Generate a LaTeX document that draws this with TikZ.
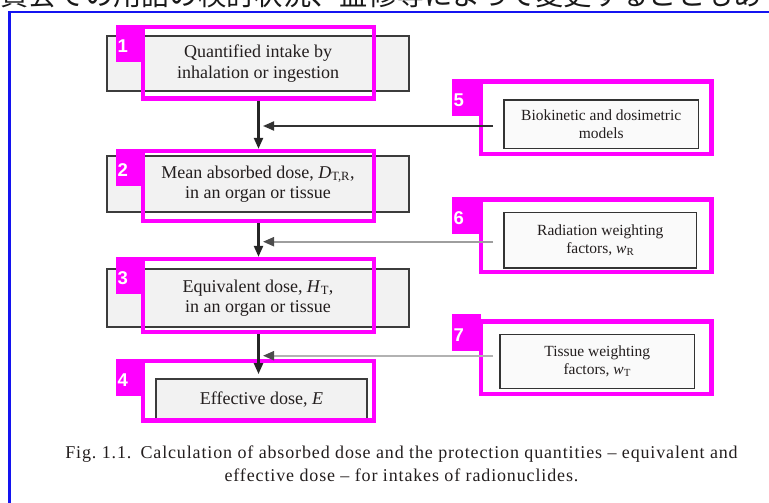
\documentclass[tikz,border=0pt]{standalone}
\usepackage{fontspec}
\setmainfont{Liberation Serif}
\newfontfamily\tagfont{Liberation Sans}
\newfontfamily\jpfont{Noto Sans CJK JP}
\usetikzlibrary{arrows.meta}

\definecolor{hilitecol}{RGB}{255,0,255}
\definecolor{frameblue}{RGB}{20,20,240}
\definecolor{stagefill}{RGB}{242,242,242}
\definecolor{stageline}{RGB}{60,60,60}
\definecolor{inkcol}{RGB}{35,30,30}

\tikzset{
  stage/.style={draw=stageline, line width=1.8pt, fill=stagefill, align=center,
    font=\fontsize{18}{20.5}\selectfont, text=inkcol, inner sep=0pt},
  source/.style={draw=black!80, line width=1.4pt, fill=black!2, align=center,
    font=\fontsize{15.5}{17.5}\selectfont, text=inkcol, inner sep=0pt},
  hilite/.style={draw=hilitecol, line width=4.3pt, inner sep=0pt},
  tag/.style={fill=hilitecol, text=white, anchor=north west,
    font=\tagfont\bfseries\fontsize{18.5}{18.5}\selectfont,
    inner xsep=1.5pt, inner ysep=0pt, text width=24pt, align=left,
    minimum height=37pt, text height=18pt, text depth=0pt},
  flow/.style={line width=2.3pt, draw=black!85, -{Triangle[length=11pt,width=9pt]}},
  feed/.style={line width=2pt, -{Triangle[length=11pt,width=9pt]}},
}

\begin{document}
\begin{tikzpicture}[x=1pt,y=-1pt]
\useasboundingbox (0,0) rectangle (769,503);

% running header of the page and the figure frame, cut at the page edge
\begin{scope}
  \clip (0,0) rectangle (769,503);
  \node[anchor=base west, inner sep=0pt, text=black!90,
        font=\jpfont\fontsize{28.3}{30}\selectfont] (hdr) at (0,5.5)
        {資会での用語の検討状況、監修等によって変更することもあ};
  \draw[frameblue, line width=2.5pt] (9.7,510) -- (9.7,12.2) -- (775,12.2);
\end{scope}

% main chain of quantities
\node[stage, minimum width=302pt, minimum height=55pt] (b1) at (258,63.5)
  {Quantified intake by\\inhalation or ingestion};
\node[stage, minimum width=302pt, minimum height=56pt] (b2) at (258,184)
  {Mean absorbed dose, \textit{D}\textsubscript{T,R},\\in an organ or tissue};
\node[stage, minimum width=302pt, minimum height=58pt] (b3) at (258,298)
  {Equivalent dose, \textit{H}\textsubscript{T},\\in an organ or tissue};
\node[stage, minimum width=211pt, minimum height=42pt] (b4) at (261.5,400)
  {Effective dose, \textit{E}};

% inputs on the right
\node[source, minimum width=194.5pt, minimum height=48.5pt] (s5) at (601.25,124.25)
  {Biokinetic and dosimetric\\models};
\node[source, minimum width=192.5pt, minimum height=55.5pt] (s6) at (600.25,240.25)
  {Radiation weighting\\factors, \textit{w}\textsubscript{R}};
\node[source, minimum width=194.5pt, minimum height=54pt] (s7) at (597.25,361.5)
  {Tissue weighting\\factors, \textit{w}\textsubscript{T}};

% highlight frames
\node[hilite, minimum width=231pt, minimum height=71.5pt] (f1) at (258.5,62.75) {};
\node[hilite, minimum width=231pt, minimum height=70pt]   (f2) at (258.5,186) {};
\node[hilite, minimum width=231pt, minimum height=73pt]   (f3) at (258.5,295.5) {};
\node[hilite, minimum width=231pt, minimum height=59.5pt] (f4) at (258.5,390.75) {};
\node[hilite, minimum width=230.5pt, minimum height=72.5pt] (f5) at (596.25,117.75) {};
\node[hilite, minimum width=230.5pt, minimum height=72.5pt] (f6) at (596.25,235.75) {};
\node[hilite, minimum width=230.5pt, minimum height=72.5pt] (f7) at (596.25,357.75) {};

% joins on the main chain
\coordinate (k5) at (263,126);
\coordinate (k6) at (263,241.7);
\coordinate (k7) at (263,355.7);

% arrows
\draw[flow] (f1.south) -- (f2.north);
\draw[flow] (f2.south) -- (f3.north);
\draw[flow, shorten >=4pt] (f3.south) -- (f3.south |- b4.north);
\draw[feed, draw=black!80, shorten <=10.3pt] (s5.west |- k5) -- (k5);
\draw[feed, draw=black!38, -{Triangle[length=11pt,width=9pt,color=black!70]},
      shorten <=10.3pt] (s6.west |- k6) -- (k6);
\draw[feed, draw=black!30, -{Triangle[length=11pt,width=9pt,color=black!70]},
      shorten <=6.3pt] (s7.west |- k7) -- (k7);

% number tags
\node[tag] (t1) at (116,25) {1};
\node[tag] (t2) at (116,149) {2};
\node[tag] (t3) at (116,257) {3};
\node[tag] (t4) at (116,359) {4};
\node[tag, text width=26pt] (t5) at (452,79) {5};
\node[tag, text width=26pt] (t6) at (452,197) {6};
\node[tag, text width=26pt] (t7) at (452,314) {7};

% caption
\node[align=center, text=inkcol,
      font=\fontsize{18}{23}\selectfont\addfontfeature{LetterSpace=4.8}] (cap) at (401.5,464)
  {Fig.\ 1.1.\hspace{2pt} Calculation of absorbed dose and the protection quantities – equivalent and\\
   effective dose – for intakes of radionuclides.};
\end{tikzpicture}
\end{document}
